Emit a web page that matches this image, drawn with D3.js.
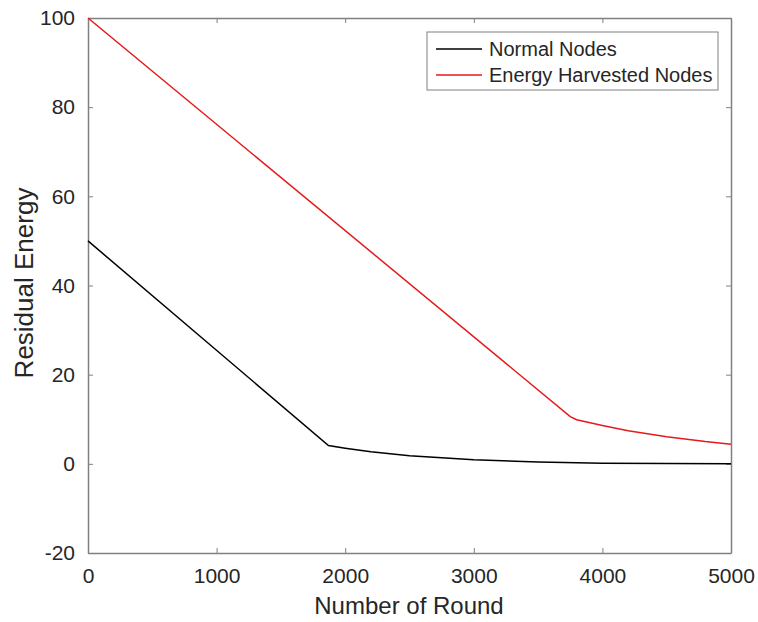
<!DOCTYPE html>
<html>
<head>
<meta charset="utf-8">
<script src="https://cdn.jsdelivr.net/npm/d3@7"></script>
<style>
  body { margin: 0; background: #fff; }
  svg text { font-family: "Liberation Sans", Arial, sans-serif; fill: #262626; }
</style>
</head>
<body>
<svg id="chart" width="758" height="622"></svg>
<script>
// Rounds and residual energy
const normalRounds = [0, 1870, 2000, 2200, 2500, 3000, 3500, 4000, 4500, 5000];
const normalEnergy = [50, 4.1, 3.5, 2.7, 1.8, 0.9, 0.4, 0.15, 0.05, 0.02];
const harvestRounds = [0, 3750, 3800, 4000, 4200, 4500, 4800, 5000];
const harvestEnergy = [100, 10.6, 9.9, 8.6, 7.4, 6.1, 5.0, 4.4];
const xTicks = [0, 1000, 2000, 3000, 4000, 5000];
const yTicks = [-20, 0, 20, 40, 60, 80, 100];
const seriesNames = ["Normal Nodes", "Energy Harvested Nodes"];
const seriesColors = ["#000000", "#e41a1c"];

const margin = {left: 88, top: 18, right: 27, bottom: 69};
const width = 758 - margin.left - margin.right;
const height = 622 - margin.top - margin.bottom;

const svg = d3.select("#chart");
const g = svg.append("g").attr("transform", `translate(${margin.left},${margin.top})`);

const x = d3.scaleLinear().domain([0, 5000]).range([0, width]);
const y = d3.scaleLinear().domain([-20, 100]).range([height, 0]);

// axes with inward ticks, MATLAB style
const axisColor = "#808080";
const fmt = d => String(d);
function styleAxis(sel) {
    sel.select(".domain").attr("stroke", axisColor).attr("stroke-width", 1.5);
    sel.selectAll(".tick line").attr("stroke", axisColor);
    sel.selectAll(".tick text").style("font-size", "21px");
}

g.append("g").attr("transform", `translate(0,${height})`)
    .call(d3.axisBottom(x).tickValues(xTicks).tickFormat(fmt).tickSizeInner(-5).tickSizeOuter(0).tickPadding(15))
    .call(styleAxis);
g.append("g")
    .call(d3.axisLeft(y).tickValues(yTicks).tickFormat(fmt).tickSizeInner(-5).tickSizeOuter(0).tickPadding(13))
    .call(styleAxis);
g.append("g")
    .call(d3.axisTop(x).tickValues(xTicks).tickSizeInner(-5).tickSizeOuter(0).tickFormat(""))
    .call(styleAxis);
g.append("g").attr("transform", `translate(${width},0)`)
    .call(d3.axisRight(y).tickValues(yTicks).tickSizeInner(-5).tickSizeOuter(0).tickFormat(""))
    .call(styleAxis);

// lines
const line = d3.line().x(d => x(d[0])).y(d => y(d[1]));
const series = [
    d3.zip(normalRounds, normalEnergy),
    d3.zip(harvestRounds, harvestEnergy)
];
series.forEach(function(pts, i) {
    g.append("path")
        .datum(pts)
        .attr("d", line)
        .attr("fill", "none")
        .attr("stroke", seriesColors[i])
        .attr("stroke-width", 1.5);
});

// axis labels
svg.append("text")
    .attr("x", 409).attr("y", 614)
    .attr("text-anchor", "middle").style("font-size", "24px")
    .text("Number of Round");
svg.append("text")
    .attr("transform", "translate(33,283) rotate(-90)")
    .attr("text-anchor", "middle").style("font-size", "26px")
    .text("Residual Energy");

// legend
const legend = svg.append("g").attr("transform", "translate(427,32)");
legend.append("rect")
    .attr("width", 291).attr("height", 58)
    .attr("fill", "#fff").attr("stroke", "#808080");
seriesNames.forEach(function(name, i) {
    const ly = 17 + i * 26;
    legend.append("line")
        .attr("x1", 9).attr("x2", 55).attr("y1", ly).attr("y2", ly)
        .attr("stroke", seriesColors[i]).attr("stroke-width", 1.5);
    legend.append("text")
        .attr("x", 62).attr("y", ly).attr("dy", "0.35em")
        .style("font-size", "20px")
        .text(name);
});
</script>
</body>
</html>
